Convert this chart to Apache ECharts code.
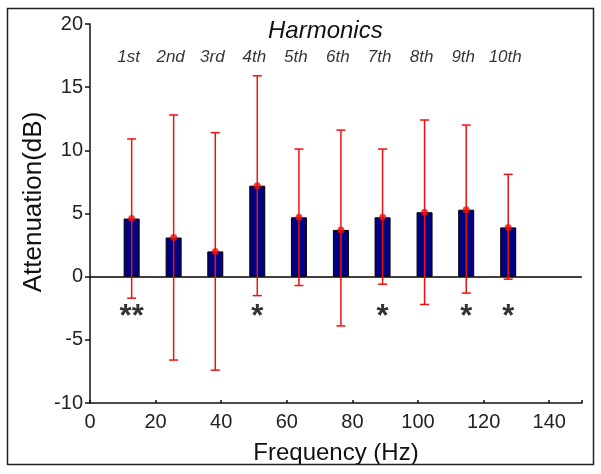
<!DOCTYPE html>
<html>
<head>
<meta charset="utf-8">
<script src="https://cdn.jsdelivr.net/npm/echarts@6/dist/echarts.min.js"></script>
<style>html,body{margin:0;padding:0;background:#fff}#c{width:601px;height:474px}</style>
</head>
<body>
<div id="c"></div>
<script>
var freqs = [12.7, 25.5, 38.2, 51.0, 63.7, 76.5, 89.2, 102.0, 114.7, 127.5];
var harmonicLabels = ['1st', '2nd', '3rd', '4th', '5th', '6th', '7th', '8th', '9th', '10th'];
var means = [4.6, 3.1, 2.0, 7.2, 4.7, 3.7, 4.7, 5.1, 5.3, 3.9];
var upper = [10.9, 12.8, 11.4, 15.9, 10.1, 11.6, 10.1, 12.4, 12.0, 8.1];
var lower = [-1.7, -6.6, -7.4, -1.5, -0.7, -3.9, -0.6, -2.2, -1.3, -0.2];
var stars = ['**', '', '', '*', '', '', '*', '', '*', '*'];
var xTicks = [0, 20, 40, 60, 80, 100, 120, 140];
var yTicks = [-10, -5, 0, 5, 10, 15, 20];
var starY = -2.7;
var labelY = 17.4;

var FONT = 'Liberation Sans, Arial, sans-serif';
var chart = echarts.init(document.getElementById('c'), null, {renderer: 'canvas'});

var barData = freqs.map(function (f, i) { return [f, means[i]]; });
var errData = freqs.map(function (f, i) { return [f, lower[i], upper[i]]; });
var starData = [];
freqs.forEach(function (f, i) { if (stars[i]) starData.push({value: [f, starY], txt: stars[i]}); });
var harmData = freqs.map(function (f, i) { return {value: [f, labelY], txt: harmonicLabels[i]}; });

chart.setOption({
  animation: false,
  backgroundColor: '#fff',
  graphic: [
    {type: 'rect', shape: {x: 7.5, y: 8.5, width: 586, height: 456}, style: {fill: 'none', stroke: '#222', lineWidth: 1.5}, z: 100},
    {type: 'text', left: 268, top: 19, style: {text: 'Harmonics', font: 'italic 24px ' + FONT, fill: '#111'}},
    {type: 'text', x: 34, y: 202, rotation: Math.PI / 2,
     style: {text: 'Attenuation(dB)', font: '26px ' + FONT, fill: '#111', align: 'center', verticalAlign: 'middle'}}
  ],
  grid: {left: 90, right: 19, top: 24, bottom: 71},
  xAxis: {
    type: 'value', min: 0, max: 150,
    interval: 20,
    axisLine: {onZero: false, lineStyle: {color: '#111', width: 1.5}},
    axisTick: {inside: true, length: 3, lineStyle: {color: '#111', width: 1.5}},
    axisLabel: {
      fontSize: 20, fontFamily: FONT, color: '#222', margin: 9,
      formatter: function (v) { return xTicks.indexOf(v) >= 0 ? String(v) : ''; }
    },
    splitLine: {show: false},
    name: 'Frequency (Hz)', nameLocation: 'middle', nameGap: 38,
    nameTextStyle: {fontSize: 24, fontFamily: FONT, color: '#111'}
  },
  yAxis: {
    type: 'value', min: -10, max: 20, interval: 5,
    axisLine: {show: true, onZero: false, lineStyle: {color: '#111', width: 1.5}},
    axisTick: {show: true, inside: false, length: 5, lineStyle: {color: '#111', width: 1.5}},
    axisLabel: {
      fontSize: 20, fontFamily: FONT, color: '#222', margin: 7,
      formatter: function (v) { return yTicks.indexOf(v) >= 0 ? String(v) : ''; }
    },
    splitLine: {show: false}
  },
  series: [
    {
      type: 'bar', data: barData, barWidth: 16,
      itemStyle: {color: '#000080', borderColor: '#000', borderWidth: 1},
      markLine: {
        silent: true, symbol: ['none', 'none'], label: {show: false},
        lineStyle: {color: '#000', width: 1.5, type: 'solid'},
        data: [[{coord: [0, 0]}, {coord: [150, 0]}]]
      },
      z: 2
    },
    {
      type: 'custom', data: errData, z: 5,
      renderItem: function (params, api) {
        var x = api.value(0);
        var lo = api.coord([x, api.value(1)]);
        var hi = api.coord([x, api.value(2)]);
        var hw = 4.5;
        var st = {stroke: '#ee1111', lineWidth: 1.5, fill: 'none'};
        return {type: 'group', children: [
          {type: 'line', shape: {x1: lo[0], y1: lo[1], x2: hi[0], y2: hi[1]}, style: st},
          {type: 'line', shape: {x1: lo[0] - hw, y1: lo[1], x2: lo[0] + hw, y2: lo[1]}, style: st},
          {type: 'line', shape: {x1: hi[0] - hw, y1: hi[1], x2: hi[0] + hw, y2: hi[1]}, style: st}
        ]};
      }
    },
    {
      type: 'scatter', data: barData, symbol: 'circle', symbolSize: 7,
      itemStyle: {color: '#ee1111'}, z: 6
    },
    {
      type: 'scatter', data: starData, symbolSize: 0, z: 7,
      label: {
        show: true, position: 'inside', offset: [0, 7],
        formatter: function (p) { return p.data.txt; },
        fontSize: 31, fontWeight: 'bold', fontFamily: FONT, color: '#000'
      }
    },
    {
      type: 'scatter', data: harmData, symbolSize: 0, z: 7,
      label: {
        show: true, position: 'inside', offset: [-3, 0],
        formatter: function (p) { return p.data.txt; },
        fontSize: 17, fontStyle: 'italic', fontFamily: FONT, color: '#000'
      }
    }
  ]
});
</script>
</body>
</html>
